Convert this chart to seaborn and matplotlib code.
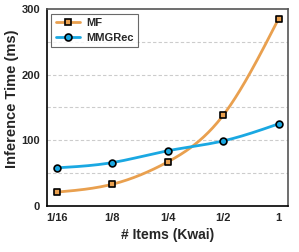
import numpy as np
import pandas as pd
import matplotlib
matplotlib.use("Agg")
import matplotlib.pyplot as plt
import seaborn as sns

# data
ratios = ["1/16", "1/8", "1/4", "1/2", "1"]
mf_time = [21, 33, 67, 138, 285]
mmgrec_time = [58, 66, 84, 99, 125]


def smooth(y, n=200):
    # natural cubic spline through the points, for the curved lines
    x = np.arange(len(y), dtype=float)
    y = np.asarray(y, dtype=float)
    k = len(x)
    A = np.zeros((k, k))
    b = np.zeros(k)
    A[0, 0] = A[-1, -1] = 1
    for i in range(1, k - 1):
        A[i, i - 1], A[i, i], A[i, i + 1] = 1, 4, 1
        b[i] = 6 * (y[i + 1] - 2 * y[i] + y[i - 1])
    m = np.linalg.solve(A, b)
    xs = np.linspace(0, k - 1, n)
    idx = np.clip(np.floor(xs).astype(int), 0, k - 2)
    t = xs - idx
    y0, y1, m0, m1 = y[idx], y[idx + 1], m[idx], m[idx + 1]
    ys = (1 - t) * y0 + t * y1 + ((1 - t) ** 3 - (1 - t)) * m0 / 6 + (t ** 3 - t) * m1 / 6
    return xs, ys


sns.set_style("white")
plt.rcParams["font.family"] = ["Liberation Sans", "DejaVu Sans"]
plt.rcParams["font.weight"] = "bold"

fig, ax = plt.subplots(figsize=(2.99, 2.52), dpi=100)

series = [("MF", mf_time, "#E9A04F", "s"), ("MMGRec", mmgrec_time, "#1AA8E2", "o")]
for name, vals, color, marker in series:
    xs, ys = smooth(vals)
    sns.lineplot(x=xs, y=ys, ax=ax, color=color, lw=2, zorder=2)
    pts = pd.DataFrame({"x": np.arange(len(vals)), "y": vals})
    sns.scatterplot(data=pts, x="x", y="y", ax=ax, marker=marker, color=color,
                    edgecolor="black", linewidth=1.2, s=24, zorder=3)
    ax.plot([], [], color=color, lw=2, marker=marker, markerfacecolor=color,
            markeredgecolor="black", markeredgewidth=1.2, markersize=5, label=name)

ax.set_xlim(-0.18, 4.17)
ax.set_ylim(0, 300)
ax.set_yticks([0, 100, 200, 300])
ax.set_xticks(range(len(ratios)))
ax.set_xticklabels(ratios)
for yv in [50, 100, 150, 200, 250]:
    ax.axhline(yv, color="#CCCCCC", lw=0.8, ls=(0, (3, 2)), zorder=0)

ax.tick_params(axis="both", labelsize=8, direction="out", length=3, width=1, pad=2)
for lab in ax.get_xticklabels() + ax.get_yticklabels():
    lab.set_fontweight("bold")
ax.set_xlabel("# Items (Kwai)", fontsize=10, fontweight="bold", labelpad=4)
ax.set_ylabel("Inference Time (ms)", fontsize=10.5, fontweight="bold")
ax.yaxis.set_label_coords(-0.118, 0.545)

for side in ["left", "bottom"]:
    ax.spines[side].set_color("black")
    ax.spines[side].set_linewidth(1.2)
for side in ["top", "right"]:
    ax.spines[side].set_color("#555555")
    ax.spines[side].set_linewidth(1.2)

leg = ax.legend(loc="upper left", fontsize=8, frameon=True, fancybox=False,
                edgecolor="#444444", handlelength=2.2, borderpad=0.4,
                labelspacing=0.45, handletextpad=0.5, borderaxespad=0.4)
leg.get_frame().set_linewidth(0.8)
for t in leg.get_texts():
    t.set_fontweight("bold")

fig.subplots_adjust(left=0.157, right=0.963, top=0.964, bottom=0.183)
fig.savefig("out.png", dpi=100)
